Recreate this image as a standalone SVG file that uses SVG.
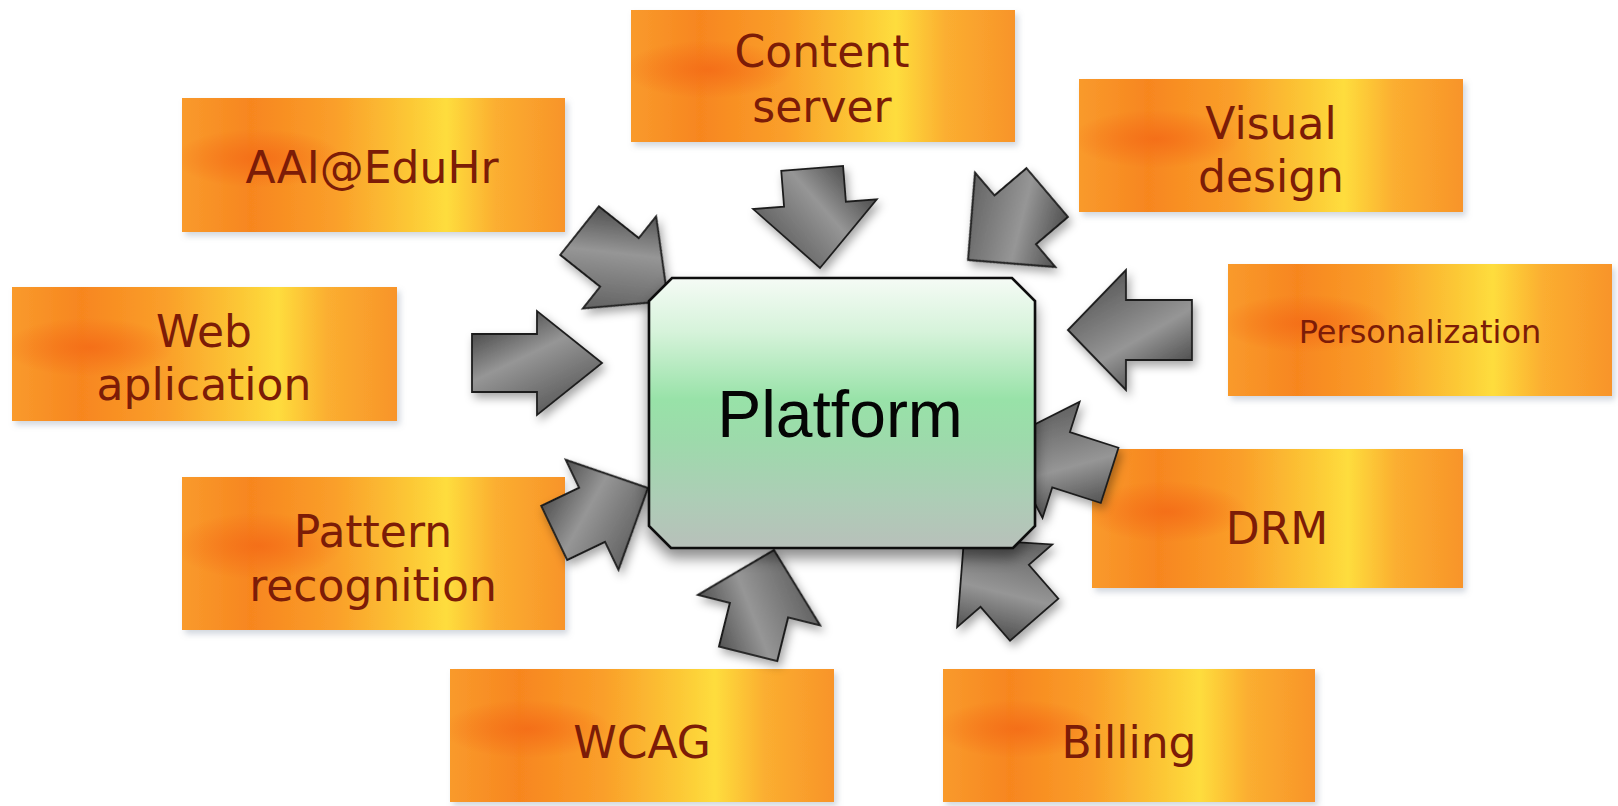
<svg xmlns="http://www.w3.org/2000/svg" width="1618" height="806" viewBox="0 0 1618 806">
  <defs>
    <style>
      .box { fill: url(#orangeBase); filter: url(#boxShadow); }
      .glow { fill: url(#orangeSpot); }
      .label { font-family: "DejaVu Sans", "Verdana", sans-serif; font-size: 44px; fill: #7c1c07; text-anchor: middle; }
      .arrow { fill: url(#steel); stroke: #1e1e1e; stroke-width: 1.8; stroke-linejoin: miter; }
      .platform { fill: url(#mint); stroke: #111; stroke-width: 2.6; filter: url(#platShadow); }
      .platLabel { font-family: "Liberation Sans", Arial, sans-serif; font-size: 66px; fill: #050505; text-anchor: middle; }
    </style>

    <!-- warm orange/yellow fill for the satellite boxes -->
    <linearGradient id="orangeBase" x1="0" y1="0" x2="1" y2="0">
      <stop offset="0" stop-color="#f99a2c"/>
      <stop offset="0.18" stop-color="#f7861f"/>
      <stop offset="0.4" stop-color="#fa9f2a"/>
      <stop offset="0.6" stop-color="#fcc936"/>
      <stop offset="0.69" stop-color="#fedd3d"/>
      <stop offset="0.82" stop-color="#fbae30"/>
      <stop offset="1" stop-color="#f8942a"/>
    </linearGradient>
    <radialGradient id="orangeSpot" cx="0.2" cy="0.45" r="0.22">
      <stop offset="0" stop-color="#f46e18" stop-opacity="0.95"/>
      <stop offset="1" stop-color="#f46e18" stop-opacity="0"/>
    </radialGradient>

    <!-- metallic grey for the block arrows -->
    <linearGradient id="steel" x1="0" y1="0" x2="0.6" y2="1">
      <stop offset="0" stop-color="#2a2a2a"/>
      <stop offset="0.5" stop-color="#969696"/>
      <stop offset="1" stop-color="#5a5a5a"/>
    </linearGradient>

    <!-- pale green to grey for the central block -->
    <linearGradient id="mint" x1="0" y1="0" x2="0" y2="1">
      <stop offset="0" stop-color="#f5fbf5"/>
      <stop offset="0.2" stop-color="#d6f3da"/>
      <stop offset="0.45" stop-color="#98e2a8"/>
      <stop offset="0.6" stop-color="#9ddaab"/>
      <stop offset="0.82" stop-color="#adcdb6"/>
      <stop offset="1" stop-color="#b8c0ba"/>
    </linearGradient>

    <filter id="boxShadow" x="-5%" y="-10%" width="115%" height="130%">
      <feDropShadow dx="3" dy="4" stdDeviation="3" flood-color="#7c8aa0" flood-opacity="0.35"/>
    </filter>
    <filter id="arrowShadow" x="-30%" y="-30%" width="160%" height="160%">
      <feDropShadow dx="3" dy="5" stdDeviation="5" flood-color="#000" flood-opacity="0.35"/>
    </filter>
    <filter id="platShadow" x="-10%" y="-10%" width="120%" height="130%">
      <feDropShadow dx="0" dy="9" stdDeviation="7" flood-color="#000" flood-opacity="0.45"/>
    </filter>
  </defs>

  <rect width="1618" height="806" fill="#ffffff"/>

  <!-- satellite boxes -->
  <g id="content-server">
    <rect class="box" x="631" y="10" width="384" height="132"/>
    <rect class="glow" x="631" y="10" width="384" height="132"/>
    <text class="label" x="822" y="67">Content</text>
    <text class="label" x="822" y="122">server</text>
  </g>
  <g id="aai-eduhr">
    <rect class="box" x="182" y="98" width="383" height="134"/>
    <rect class="glow" x="182" y="98" width="383" height="134"/>
    <text class="label" x="372" y="183">AAI@EduHr</text>
  </g>
  <g id="visual-design">
    <rect class="box" x="1079" y="79" width="384" height="133"/>
    <rect class="glow" x="1079" y="79" width="384" height="133"/>
    <text class="label" x="1271" y="139">Visual</text>
    <text class="label" x="1271" y="192">design</text>
  </g>
  <g id="web-aplication">
    <rect class="box" x="12" y="287" width="385" height="134"/>
    <rect class="glow" x="12" y="287" width="385" height="134"/>
    <text class="label" x="204" y="347">Web</text>
    <text class="label" x="204" y="400">aplication</text>
  </g>
  <g id="personalization">
    <rect class="box" x="1228" y="264" width="384" height="132"/>
    <rect class="glow" x="1228" y="264" width="384" height="132"/>
    <text class="label" x="1420" y="343" style="font-size:32px">Personalization</text>
  </g>
  <g id="pattern-recognition">
    <rect class="box" x="182" y="477" width="383" height="153"/>
    <rect class="glow" x="182" y="477" width="383" height="153"/>
    <text class="label" x="373" y="547">Pattern</text>
    <text class="label" x="373" y="601">recognition</text>
  </g>
  <g id="drm">
    <rect class="box" x="1092" y="449" width="371" height="139"/>
    <rect class="glow" x="1092" y="449" width="371" height="139"/>
    <text class="label" x="1277" y="544">DRM</text>
  </g>
  <g id="wcag">
    <rect class="box" x="450" y="669" width="384" height="133"/>
    <rect class="glow" x="450" y="669" width="384" height="133"/>
    <text class="label" x="642" y="758">WCAG</text>
  </g>
  <g id="billing">
    <rect class="box" x="943" y="669" width="372" height="133"/>
    <rect class="glow" x="943" y="669" width="372" height="133"/>
    <text class="label" x="1129" y="758">Billing</text>
  </g>

  <!-- block arrows pointing into the platform (tip at local origin, pointing +x) -->
  <g id="connectors" filter="url(#arrowShadow)">
    <polygon class="arrow" transform="translate(820,268) rotate(85.5)" points="0,0 -64,-62 -64,-31 -100,-31 -100,31 -64,31 -64,62"/>
    <polygon class="arrow" transform="translate(968,260) rotate(139.6)" points="0,0 -62,-62 -62,-32 -104,-32 -104,32 -62,32 -62,62"/>
    <polygon class="arrow" transform="translate(1068,330) rotate(180)" points="0,0 -58,-60 -58,-30 -124,-30 -124,30 -58,30 -58,60"/>
    <polygon class="arrow" transform="translate(602,363) rotate(0)" points="0,0 -65,-52 -65,-29 -130,-29 -130,29 -65,29 -65,52"/>
    <polygon class="arrow" transform="translate(1002,441) rotate(197.7)" points="0,0 -62,-61 -62,-29 -113,-29 -113,29 -62,29 -62,61"/>
    <polygon class="arrow" transform="translate(964,539) rotate(229)" points="0,0 -62,-63 -62,-32 -107,-32 -107,32 -62,32 -62,63"/>
    <polygon class="arrow" transform="translate(774,550) rotate(-76)" points="0,0 -62,-63 -62,-30 -107,-30 -107,30 -62,30 -62,63"/>
    <polygon class="arrow" transform="translate(648,488) rotate(-25.6)" points="0,0 -62,-61 -62,-30 -104,-30 -104,30 -62,30 -62,61"/>
    <polygon class="arrow" transform="translate(668,301) rotate(38.5)" points="0,0 -62,-59 -62,-31 -113,-31 -113,31 -62,31 -62,59"/>
  </g>

  <!-- central block -->
  <g id="platform">
    <polygon class="platform" points="672,278 1012,278 1035,301 1035,526 1013,548 671,548 649,526 649,301"/>
    <text class="platLabel" x="840" y="437">Platform</text>
  </g>
</svg>
